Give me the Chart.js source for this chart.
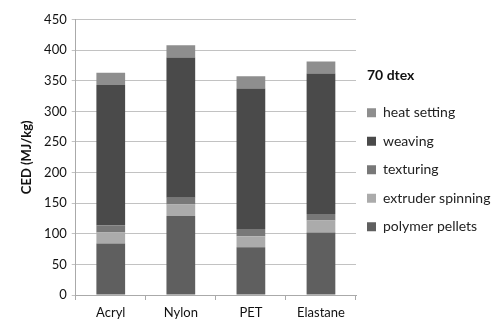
<!DOCTYPE html>
<html><head><meta charset="utf-8">
<script src="https://cdn.jsdelivr.net/npm/chart.js@4/dist/chart.umd.min.js"></script>
<style>html,body{margin:0;padding:0;background:#fff}#wrap{width:499px;height:320px}</style>
</head><body><div id="wrap"><canvas id="c"></canvas></div>
<script>
const categories = ["Acryl", "Nylon", "PET", "Elastane"];
const polymerPellets = [84, 129, 78, 102];
const extruderSpinning = [18, 19, 18, 19.5];
const texturing = [12, 11, 12, 11];
const weaving = [229, 229, 229.5, 229.5];
const heatSetting = [20, 20, 20, 19.5];
const yTicks = [0, 50, 100, 150, 200, 250, 300, 350, 400, 450];

const FONT = "Lato, 'Open Sans', sans-serif";
const LEG_W = 143, LEG_DX = -3.5;

const legendTweak = {
  id: 'legendTweak',
  afterInit(chart) {
    const lg = chart.legend;
    if (!lg) return;
    if (typeof lg.fit === 'function') {
      const of = lg.fit.bind(lg);
      lg.fit = function () { of(); this.width = LEG_W; };
    }
    if (typeof lg.draw === 'function') {
      const od = lg.draw.bind(lg);
      lg.draw = function (a) { const l = this.left; this.left = l + LEG_DX; od(a); this.left = l; };
    }
    ['drawTitle', '_drawTitle'].forEach(name => {
      if (typeof lg[name] === 'function') {
        const odt = lg[name].bind(lg);
        lg[name] = function () { const l = this.left; this.left = l + this.options.labels.padding; odt(); this.left = l; };
      }
    });
  }
};

new Chart(document.getElementById('c'), {
  type: 'bar',
  data: {
    labels: categories,
    datasets: [
      {label: 'polymer pellets', data: polymerPellets, backgroundColor: '#5f5f5f'},
      {label: 'extruder spinning', data: extruderSpinning, backgroundColor: '#ababab'},
      {label: 'texturing', data: texturing, backgroundColor: '#787878'},
      {label: 'weaving', data: weaving, backgroundColor: '#4a4a4a'},
      {label: 'heat setting', data: heatSetting, backgroundColor: '#8e8e8e'}
    ].map(d => Object.assign(d, {barPercentage: 0.41, categoryPercentage: 1, borderWidth: 0}))
  },
  plugins: [legendTweak],
  options: {
    responsive: true, maintainAspectRatio: false, animation: false,
    layout: {padding: {top: 19.5, bottom: -6, left: 17.5, right: 0}},
    plugins: {
      legend: {
        position: 'right', reverse: true, align: 'start',
        title: {display: true, text: '70 dtex', color: '#111', position: 'start',
          font: {family: FONT, size: 14, weight: 'bold'}, padding: {top: 48.5, bottom: 6.4}},
        labels: {boxWidth: 9, boxHeight: 9, padding: 14.5, color: '#222',
          font: {family: FONT, size: 14}}
      },
      tooltip: {enabled: false}
    },
    scales: {
      x: {
        stacked: true,
        grid: {display: true, offset: true, drawOnChartArea: false, tickLength: 5, color: '#aaa'},
        border: {color: '#aaa'},
        ticks: {color: '#111', font: {family: FONT, size: 13, lineHeight: 1}, padding: 6.5}
      },
      y: {
        stacked: true, min: 0, max: 450,
        afterBuildTicks: s => { s.ticks = yTicks.map(v => ({value: v})); },
        grid: {color: '#c2c2c2', tickLength: 4},
        border: {color: '#aaa'},
        ticks: {color: '#111', font: {family: FONT, size: 13}, padding: 5},
        title: {display: true, text: 'CED (MJ/kg)', color: '#111',
          font: {family: FONT, size: 13, weight: 'bold'}, padding: {top: 2, bottom: 4}}
      }
    }
  }
});
</script></body></html>
